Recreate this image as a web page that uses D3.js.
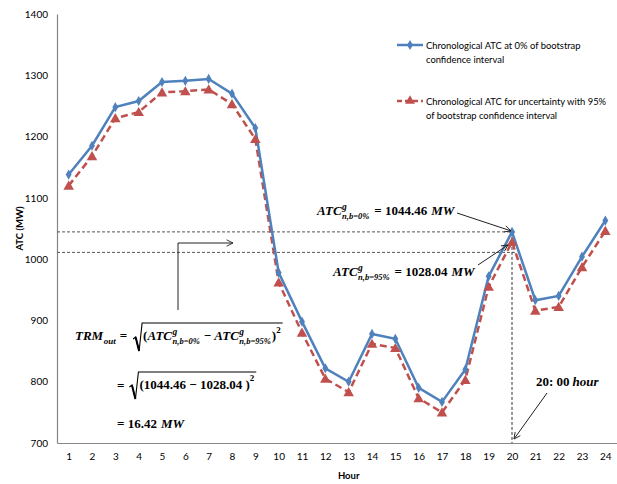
<!DOCTYPE html>
<html lang="en">
<head>
<meta charset="UTF-8">
<title>Chronological ATC</title>
<script src="https://cdn.jsdelivr.net/npm/d3@7"></script>
<style>
    body { margin: 0; background: #fff; }
    .tick text { font-family: Lato, "Liberation Sans", sans-serif; font-size: 10px; fill: #000; }
    .legend text { font-family: Lato, "Liberation Sans", sans-serif; font-size: 9.4px; fill: #000; }
    .math { font-family: "Liberation Serif", "DejaVu Serif", serif; font-weight: bold; fill: #000; }
</style>
</head>
<body>
<svg id="chart" width="617" height="484"></svg>
<script>
    // data
    const hours = [1,2,3,4,5,6,7,8,9,10,11,12,13,14,15,16,17,18,19,20,21,22,23,24];
    const atc0 = [1138,1185,1248,1258,1289,1291,1294,1270,1214,978,898,822,800,878,870,790,767,820,972,1044.46,933,940,1004,1063];
    const atc95 = [1120,1168,1230,1240,1272,1274,1277,1253,1196,962,880,805,783,862,855,773,750,803,955,1028.04,916,922,987,1046];
    const yTicks = [700,800,900,1000,1100,1200,1300,1400];
    const refLevels = [1044.46, 1011];   // dotted guide lines as drawn
    const markHour = 20;
    const seriesNames = [
        ["Chronological ATC at 0% of bootstrap", "confidence interval"],
        ["Chronological ATC for uncertainty with 95%", "of bootstrap confidence interval"]
    ];

    const blue = "#4F81BD", red = "#C0504D", axisGrey = "#868686";

    const svg = d3.select("#chart");
    const plot = {left: 57, right: 617, top: 14, bottom: 443};

    const x = d3.scalePoint().domain(hours).range([plot.left, plot.right]).padding(0.5);
    const y = d3.scaleLinear().domain([700, 1400]).range([plot.bottom, plot.top]);

    // arrow head
    const defs = svg.append("defs");
    defs.append("marker").attr("id", "arr").attr("viewBox", "0 0 10 10")
        .attr("refX", 9).attr("refY", 5).attr("markerWidth", 8).attr("markerHeight", 8)
        .attr("orient", "auto")
        .append("path").attr("d", "M1,1 L9,5 L1,9").attr("fill", "none").attr("stroke", "#222").attr("stroke-width", 1.1);

    // axes
    const yAxis = svg.append("g").attr("transform", `translate(${plot.left},0)`)
        .call(d3.axisLeft(y).tickValues(yTicks).tickFormat(d3.format("d")).tickSize(0).tickPadding(9));
    yAxis.select(".domain").attr("stroke", axisGrey).attr("stroke-width", 1.2);

    const xAxis = svg.append("g").attr("transform", `translate(0,${plot.bottom})`)
        .call(d3.axisBottom(x).tickSize(0).tickPadding(10));
    xAxis.select(".domain").attr("stroke", axisGrey).attr("stroke-width", 1.2);

    svg.append("text").attr("transform", `translate(23,${(plot.top + plot.bottom) / 2}) rotate(-90)`)
        .attr("text-anchor", "middle").attr("font-family", "Lato, sans-serif")
        .attr("font-size", 9.5).attr("font-weight", "bold").text("ATC (MW)");
    svg.append("text").attr("x", x(13)).attr("y", 479).attr("text-anchor", "middle")
        .attr("font-family", "Lato, sans-serif").attr("font-size", 9.5).attr("font-weight", "bold").text("Hour");

    // dotted guide lines
    svg.selectAll(".guide").data(refLevels).join("line").attr("class", "guide")
        .attr("x1", plot.left).attr("x2", x(markHour) + 4)
        .attr("y1", d => y(d)).attr("y2", d => y(d))
        .attr("stroke", "#555").attr("stroke-width", 1).attr("stroke-dasharray", "3,2");
    svg.append("line").attr("x1", x(markHour)).attr("x2", x(markHour))
        .attr("y1", y(refLevels[0])).attr("y2", plot.bottom)
        .attr("stroke", "#333").attr("stroke-width", 1).attr("stroke-dasharray", "3,2");

    // series
    const line = d3.line().x((d, i) => x(hours[i])).y(d => y(d));
    svg.append("path").datum(atc95).attr("d", line).attr("fill", "none")
        .attr("stroke", red).attr("stroke-width", 2.5).attr("stroke-dasharray", "7,4");
    svg.append("path").datum(atc0).attr("d", line).attr("fill", "none")
        .attr("stroke", blue).attr("stroke-width", 2.5);

    svg.selectAll(".tri").data(atc95).join("path").attr("class", "tri")
        .attr("transform", (d, i) => `translate(${x(hours[i])},${y(d) + 1})`)
        .attr("d", d3.symbol(d3.symbolTriangle, 48)).attr("fill", red);
    svg.selectAll(".dia").data(atc0).join("path").attr("class", "dia")
        .attr("transform", (d, i) => `translate(${x(hours[i])},${y(d)})`)
        .attr("d", d3.symbol(d3.symbolDiamond, 30)).attr("fill", blue);

    // legend
    const lg = svg.append("g").attr("class", "legend");
    [[blue, null, d3.symbolDiamond, 30, 45], [red, "5,3", d3.symbolTriangle, 42, 101]].forEach((s, k) => {
        const [col, dash, sym, sz, ly] = s;
        lg.append("line").attr("x1", 397).attr("x2", 423).attr("y1", ly).attr("y2", ly)
            .attr("stroke", col).attr("stroke-width", 2.5).attr("stroke-dasharray", dash);
        lg.append("path").attr("transform", `translate(410,${ly})`).attr("d", d3.symbol(sym, sz)).attr("fill", col);
        seriesNames[k].forEach((t, j) => {
            lg.append("text").attr("x", 426).attr("y", ly + 3.5 + j * 14.5).text(t);
        });
    });

    // math helpers
    const FS = 13, SS = 8.5;
    function txt(g, x0, y0, s, size, italic) {
        const t = g.append("text").attr("class", "math").attr("x", x0).attr("y", y0)
            .attr("font-size", size).attr("font-style", italic ? "italic" : "normal").text(s);
        return x0 + t.node().getComputedTextLength();
    }
    function atc(g, x0, y0, sub) {
        const xe = txt(g, x0, y0, "ATC", FS, true);
        const a = txt(g, xe + 0.5, y0 - FS * 0.42, "g", SS + 1, true);
        const b = txt(g, xe + 0.5, y0 + FS * 0.32, sub, SS, true);
        return Math.max(a, b);
    }
    function radical(g, x0, yTop, yBot, xEnd) {
        g.append("path").attr("fill", "none").attr("stroke", "#000").attr("stroke-width", 1.1)
            .attr("d", `M${x0},${yBot - 12} L${x0 + 2.5},${yBot - 14} L${x0 + 6},${yBot} L${x0 + 9},${yTop} L${xEnd},${yTop}`);
        g.append("path").attr("d", `M${x0 + 2.5},${yBot - 14} L${x0 + 6},${yBot}`).attr("stroke", "#000").attr("stroke-width", 2);
    }

    const ann = svg.append("g");
    // upper label
    let xe = atc(ann, 317, 215, "n,b=0%");
    xe = txt(ann, xe + 5, 215, "= 1044.46", FS, false);
    txt(ann, xe + 4, 215, "MW", FS, true);
    ann.append("line").attr("x1", 457).attr("y1", 213).attr("x2", x(markHour) - 1).attr("y2", y(atc0[19]) - 1)
        .attr("stroke", "#222").attr("stroke-width", 1).attr("marker-end", "url(#arr)");

    // lower label
    xe = atc(ann, 333, 276, "n,b=95%");
    xe = txt(ann, xe + 5, 276, "= 1028.04", FS, false);
    txt(ann, xe + 4, 276, "MW", FS, true);
    ann.append("line").attr("x1", 478).attr("y1", 265).attr("x2", x(markHour) - 4).attr("y2", y(atc95[19]) + 3)
        .attr("stroke", "#222").attr("stroke-width", 1).attr("marker-end", "url(#arr)");

    // 20:00 hour label
    const he = txt(ann, 536, 386, "20: 00", FS, false);
    txt(ann, he + 3, 386, "hour", FS, true);
    ann.append("line").attr("x1", 547).attr("y1", 393).attr("x2", x(markHour) + 2).attr("y2", plot.bottom - 4)
        .attr("stroke", "#222").attr("stroke-width", 1).attr("marker-end", "url(#arr)");

    // bent arrow
    ann.append("path").attr("d", `M178,310 L178,243 L233,243`).attr("fill", "none")
        .attr("stroke", "#222").attr("stroke-width", 1).attr("marker-end", "url(#arr)");

    // TRM formula
    let fx = txt(ann, 75, 340, "TRM", FS, true);
    fx = txt(ann, fx + 0.5, 344, "out", SS + 0.5, true);
    fx = txt(ann, fx + 4, 340, "=", FS, false);
    const r1 = fx + 6;
    fx = txt(ann, r1 + 10, 340, "(", FS, false);
    fx = atc(ann, fx, 340, "n,b=0%");
    fx = txt(ann, fx + 4, 340, "\u2212", FS, false);
    fx = atc(ann, fx + 3, 340, "n,b=95%");
    fx = txt(ann, fx + 1, 340, ")", FS, false);
    fx = txt(ann, fx, 333, "2", SS + 0.5, false);
    radical(ann, r1, 323, 351, fx + 2);

    fx = txt(ann, 117, 390, "=", FS, false);
    const r2 = fx + 5;
    fx = txt(ann, r2 + 10, 389, "(1044.46 \u2212 1028.04 )", FS, false);
    fx = txt(ann, fx, 381, "2", SS + 0.5, false);
    radical(ann, r2, 372, 399, fx + 2);

    fx = txt(ann, 117, 428, "= 16.42", FS, false);
    txt(ann, fx + 4, 428, "MW", FS, true);
</script>
</body>
</html>
